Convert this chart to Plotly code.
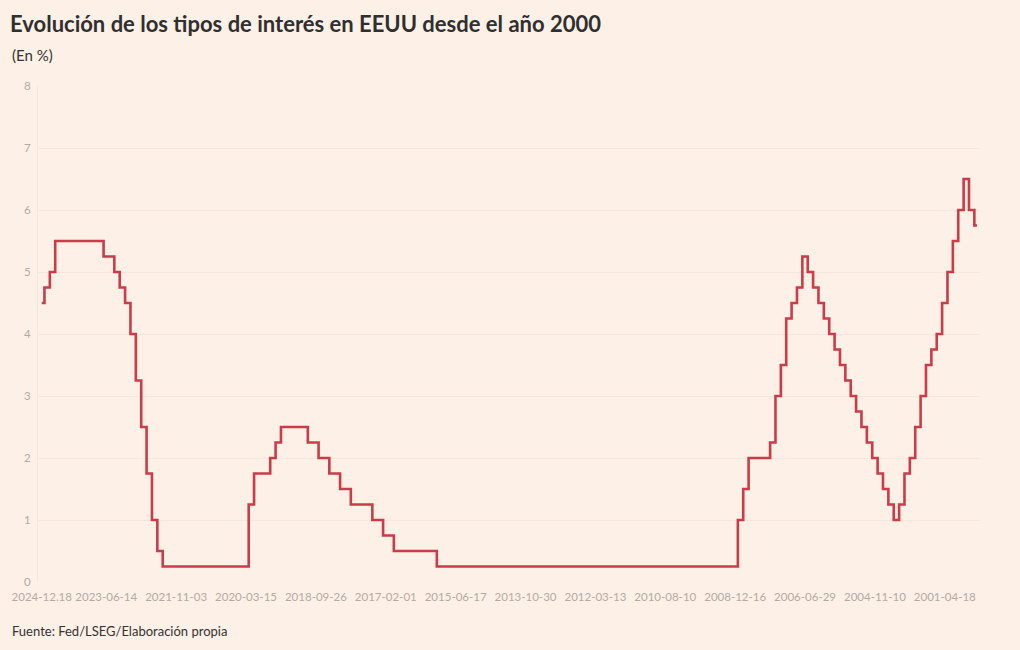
import plotly.graph_objects as go

# una fila por reunión/decisión de la Fed (más reciente primero)
fechas = [
    '2024-12-18', '2024-11-07', '2024-09-18', '2024-07-31', '2024-06-12', '2024-05-01', '2024-03-20', '2024-01-31',
    '2023-12-13', '2023-11-01', '2023-09-20', '2023-07-26', '2023-06-14', '2023-05-03', '2023-03-22', '2023-02-01',
    '2022-12-14', '2022-11-02', '2022-09-21', '2022-07-27', '2022-06-15', '2022-05-04', '2022-03-16', '2022-01-26',
    '2021-12-15', '2021-11-03', '2021-09-22', '2021-07-28', '2021-06-16', '2021-04-28', '2021-03-17', '2021-01-27',
    '2020-12-16', '2020-11-05', '2020-09-16', '2020-07-29', '2020-06-10', '2020-04-29', '2020-03-15', '2020-03-03',
    '2020-01-29',
    '2019-12-11', '2019-10-30', '2019-09-18', '2019-07-31', '2019-06-19', '2019-05-01', '2019-03-20', '2019-01-30',
    '2018-12-19', '2018-11-08', '2018-09-26', '2018-08-01', '2018-06-13', '2018-05-02', '2018-03-21', '2018-01-31',
    '2017-12-13', '2017-11-01', '2017-09-20', '2017-07-26', '2017-06-14', '2017-05-03', '2017-03-15', '2017-02-01',
    '2016-12-14', '2016-11-02', '2016-09-21', '2016-07-27', '2016-06-15', '2016-04-27', '2016-03-16', '2016-01-27',
    '2015-12-16', '2015-10-28', '2015-09-17', '2015-07-29', '2015-06-17', '2015-04-29', '2015-03-18', '2015-01-28',
    '2014-12-17', '2014-10-29', '2014-09-17', '2014-07-30', '2014-06-18', '2014-04-30', '2014-03-19', '2014-01-29',
    '2013-12-18', '2013-10-30', '2013-09-18', '2013-07-31', '2013-06-19', '2013-05-01', '2013-03-20', '2013-01-30',
    '2012-12-12', '2012-10-24', '2012-09-13', '2012-08-01', '2012-06-20', '2012-04-25', '2012-03-13', '2012-01-25',
    '2011-12-13', '2011-11-02', '2011-09-21', '2011-08-09', '2011-06-22', '2011-04-27', '2011-03-15', '2011-01-26',
    '2010-12-14', '2010-11-03', '2010-09-21', '2010-08-10', '2010-06-23', '2010-04-28', '2010-03-16', '2010-01-27',
    '2009-12-16', '2009-11-04', '2009-09-23', '2009-08-12', '2009-06-24', '2009-04-29', '2009-03-18', '2009-01-28',
    '2008-12-16', '2008-10-29', '2008-10-08', '2008-09-16', '2008-08-05', '2008-06-25', '2008-04-30', '2008-03-18',
    '2008-01-30', '2008-01-22',
    '2007-12-11', '2007-10-31', '2007-09-18',
    '2006-06-29', '2006-05-10', '2006-03-28', '2006-01-31',
    '2005-12-13', '2005-11-01', '2005-09-20', '2005-08-09', '2005-06-30', '2005-05-03', '2005-03-22', '2005-02-02',
    '2004-12-14', '2004-11-10', '2004-09-21', '2004-08-10', '2004-06-30',
    '2003-06-25', '2002-11-06',
    '2001-12-11', '2001-11-06', '2001-10-02', '2001-09-17', '2001-08-21', '2001-06-27', '2001-05-15', '2001-04-18',
    '2001-03-20', '2001-01-31', '2001-01-03',
    '2000-05-16', '2000-03-21', '2000-02-02',
]

tipos = [
    4.5, 4.75, 5.0, 5.5, 5.5, 5.5, 5.5, 5.5,
    5.5, 5.5, 5.5, 5.5, 5.25, 5.25, 5.0, 4.75,
    4.5, 4.0, 3.25, 2.5, 1.75, 1.0, 0.5, 0.25,
    0.25, 0.25, 0.25, 0.25, 0.25, 0.25, 0.25, 0.25,
    0.25, 0.25, 0.25, 0.25, 0.25, 0.25, 0.25, 1.25,
    1.75,
    1.75, 1.75, 2.0, 2.25, 2.5, 2.5, 2.5, 2.5,
    2.5, 2.25, 2.25, 2.0, 2.0, 1.75, 1.75, 1.5,
    1.5, 1.25, 1.25, 1.25, 1.25, 1.0, 1.0, 0.75,
    0.75, 0.5, 0.5, 0.5, 0.5, 0.5, 0.5, 0.5,
    0.5, 0.25, 0.25, 0.25, 0.25, 0.25, 0.25, 0.25,
    0.25, 0.25, 0.25, 0.25, 0.25, 0.25, 0.25, 0.25,
    0.25, 0.25, 0.25, 0.25, 0.25, 0.25, 0.25, 0.25,
    0.25, 0.25, 0.25, 0.25, 0.25, 0.25, 0.25, 0.25,
    0.25, 0.25, 0.25, 0.25, 0.25, 0.25, 0.25, 0.25,
    0.25, 0.25, 0.25, 0.25, 0.25, 0.25, 0.25, 0.25,
    0.25, 0.25, 0.25, 0.25, 0.25, 0.25, 0.25, 0.25,
    0.25, 1.0, 1.5, 2.0, 2.0, 2.0, 2.0, 2.25,
    3.0, 3.5,
    4.25, 4.5, 4.75,
    5.25, 5.0, 4.75, 4.5,
    4.25, 4.0, 3.75, 3.5, 3.25, 3.0, 2.75, 2.5,
    2.25, 2.0, 1.75, 1.5, 1.25,
    1.0, 1.25,
    1.75, 2.0, 2.5, 3.0, 3.5, 3.75, 4.0, 4.5,
    5.0, 5.5, 6.0,
    6.5, 6.0, 5.75,
]

tick_fechas = ['2024-12-18', '2023-06-14', '2021-11-03', '2020-03-15', '2018-09-26', '2017-02-01', '2015-06-17',
               '2013-10-30', '2012-03-13', '2010-08-10', '2008-12-16', '2006-06-29', '2004-11-10', '2001-04-18']
tick_textos = ['2024-12.18'] + tick_fechas[1:]

y_ticks = [0, 1, 2, 3, 4, 5, 6, 7, 8]

FONT = 'Lato'
BG = '#fdf0e6'

fig = go.Figure(go.Scatter(
    x=fechas, y=tipos, mode='lines', line=dict(color='#c93c48', width=2.6, shape='hvh'),
    hovertemplate='%{x}: %{y}%<extra></extra>',
))

fig.update_layout(
    width=1020, height=650,
    paper_bgcolor=BG, plot_bgcolor=BG,
    margin=dict(l=38, r=40, t=86, b=68),
    showlegend=False,
    font=dict(family=FONT, color='#333333'),
    title=dict(text='<b>Evolución de los tipos de interés en EEUU desde el año 2000</b>',
               x=10 / 1020, xref='container', xanchor='left',
               y=1 - 24 / 650, yref='container', yanchor='middle',
               font=dict(family=FONT, size=22, color='#2f2f2f')),
    xaxis=dict(type='category', range=[-0.7, len(fechas) - 0.45],
               tickvals=tick_fechas, ticktext=tick_textos,
               showgrid=False, zeroline=False, showline=False, ticks='',
               ticklabelstandoff=6,
               tickfont=dict(size=11.5, color='#b4aaa3')),
    yaxis=dict(range=[0, 8], tickvals=y_ticks, showgrid=True, gridcolor='#f7e6dc', gridwidth=1,
               zeroline=False, showline=True, linecolor='#f7e6dc', ticks='',
               ticklabelstandoff=4,
               tickfont=dict(size=11.5, color='#b4aaa3')),
    annotations=[
        dict(text='(En %)', xref='paper', yref='paper', x=-28 / 942, y=(582 - 55) / 496,
             xanchor='left', yanchor='middle', showarrow=False,
             font=dict(family=FONT, size=15, color='#333333')),
        dict(text='Fuente: Fed/LSEG/Elaboración propia', xref='paper', yref='paper',
             x=-28 / 942, y=(582 - 631) / 496, xanchor='left', yanchor='middle', showarrow=False,
             font=dict(family=FONT, size=13, color='#333333')),
    ],
)

fig.write_html('out.html', config={'displayModeBar': False},
               post_script="document.body.style.margin='0';")
